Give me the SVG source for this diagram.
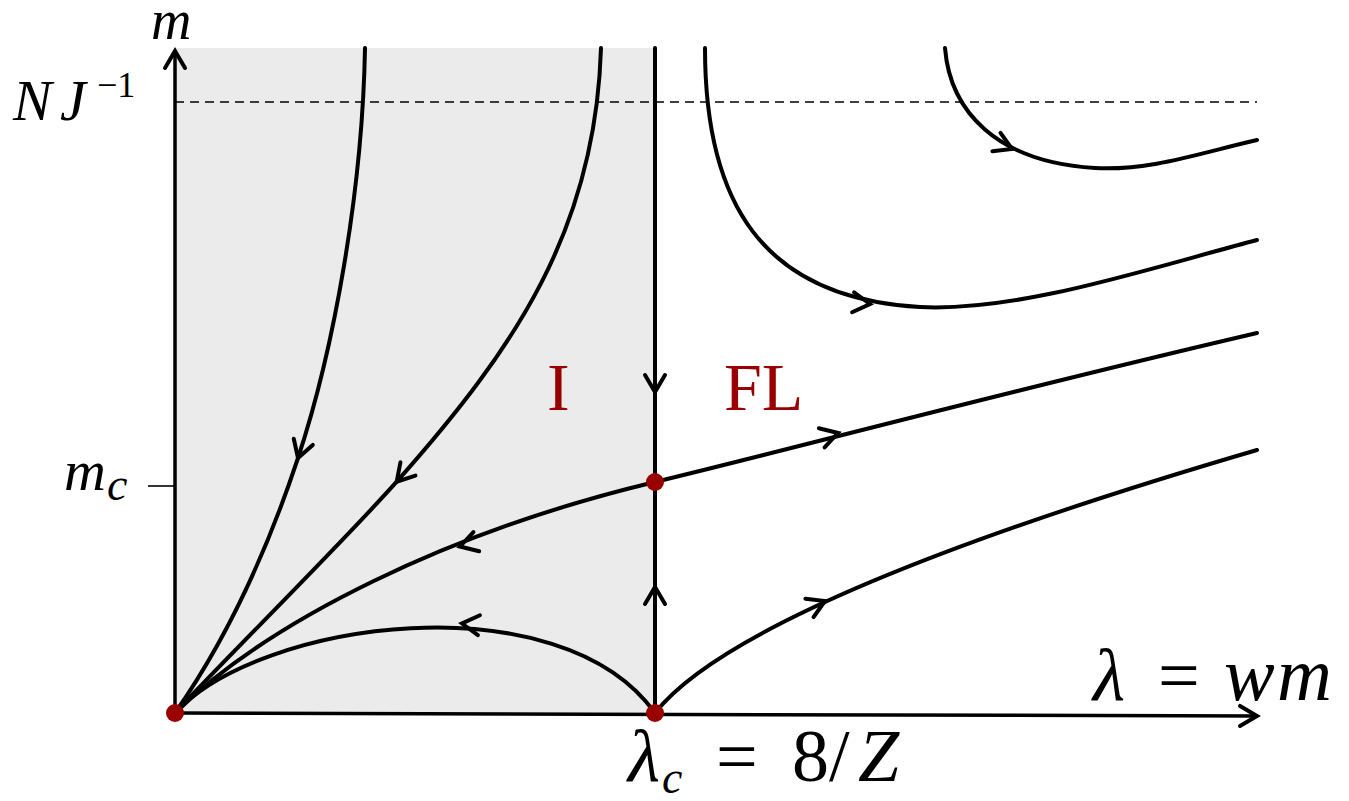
<svg xmlns="http://www.w3.org/2000/svg" width="1349" height="801" viewBox="0 0 1349 801">
<style>
.ln{fill:none;stroke:#000;stroke-width:4;stroke-linecap:round}
.ax{fill:none;stroke:#000;stroke-width:3.5}
.dash{fill:none;stroke:#000;stroke-width:1.6;stroke-dasharray:9 6}
.dir{fill:none;stroke:none}
.mi{font-family:"Liberation Serif","DejaVu Serif",serif;font-style:italic;fill:#000}
.rm{font-family:"Liberation Serif","DejaVu Serif",serif;fill:#000}
.red{font-family:"Liberation Serif","DejaVu Serif",serif;fill:#990000;font-size:68px}
.dot{fill:#990000}
</style>
<defs>
<marker id="tip" markerUnits="userSpaceOnUse" viewBox="-24 -14 28 28" markerWidth="28" markerHeight="28" refX="0" refY="0" orient="auto" overflow="visible">
<path d="M-17,-10 L0,0 L-17,10" fill="none" stroke="#000" stroke-width="4" stroke-linecap="round" stroke-linejoin="miter"/>
</marker>
</defs>
<rect id="region-I" x="175" y="48" width="480" height="665" fill="#ebebeb"/>
<g id="axes">
<path class="ax" d="M175,713 L175,51" marker-end="url(#tip)"/>
<path class="ax" d="M175,713 L1257,716" marker-end="url(#tip)"/>
<line class="dash" x1="175" y1="102" x2="1257" y2="102"/>
<line x1="148" y1="486" x2="175" y2="486" stroke="#000" stroke-width="1.6"/>
</g>
<g id="connectors">
<path class="ln" d="M655,48 L655,713"/>
<path class="ln" d="M175,713 C228.9,636 268.5,547.2 298,458 C334,349 362.5,190 365,48"/>
<path class="ln" d="M175,713 C229.4,654.6 343.6,541.5 396.7,481.7 C516.2,347.1 595.6,228.6 601,48"/>
<path class="ln" d="M175,713 C270,620 450,531 655,482 C800,447 1000,393 1257,333"/>
<path class="ln" d="M175,713 C260,620 560,580 655,713"/>
<path class="ln" d="M655,713 C720,630 950,540 1257,450"/>
<path class="ln" d="M705,48 C705,200 760,298 920,307 C1020,312 1150,268 1257,240"/>
<path class="ln" d="M945,48 C950,110 995,162 1095,168 C1150,171 1200,153 1257,140"/>
<g id="arrowheads">
<path class="dir" d="M301.1,448.5 L298,458" marker-end="url(#tip)"/>
<path class="dir" d="M403.3,474.2 L396.7,481.7" marker-end="url(#tip)"/>
<path class="dir" d="M470,543.5 L460,546.5" marker-end="url(#tip)"/>
<path class="dir" d="M472,624.5 L462,623.5" marker-end="url(#tip)"/>
<path class="dir" d="M655,382 L655,392" marker-end="url(#tip)"/>
<path class="dir" d="M655,597 L655,587" marker-end="url(#tip)"/>
<path class="dir" d="M828,436 L838,433" marker-end="url(#tip)"/>
<path class="dir" d="M816,605 L825,601" marker-end="url(#tip)"/>
<path class="dir" d="M860,303 L870,304" marker-end="url(#tip)"/>
<path class="dir" d="M1003,145 L1012,149" marker-end="url(#tip)"/>
</g>
</g>
<g id="fixed-points">
<circle class="dot" cx="175" cy="713" r="9"/>
<circle class="dot" cx="655" cy="713" r="9"/>
<circle class="dot" cx="655" cy="482" r="9"/>
</g>
<g id="labels">
<text class="mi" x="151" y="39" font-size="56">m</text>
<text class="mi" x="13" y="120" font-size="58">N</text>
<text class="mi" x="60" y="120" font-size="58">J</text>
<text class="rm" x="97" y="97" font-size="36">−1</text>
<text class="mi" x="64" y="490" font-size="58">m</text>
<text class="mi" x="107" y="500" font-size="46">c</text>
<text class="mi" x="1093" y="700" font-size="74">λ</text>
<text class="rm" x="1158" y="700" font-size="74">=</text>
<text class="mi" x="1224" y="700" font-size="76">w</text>
<text class="mi" x="1277" y="700" font-size="76">m</text>
<text class="mi" x="628" y="781" font-size="74">λ</text>
<text class="mi" x="662" y="793" font-size="46">c</text>
<text class="rm" x="716" y="781" font-size="74">=</text>
<text class="rm" x="792" y="781" font-size="74">8/</text>
<text class="mi" x="858" y="781" font-size="74">Z</text>
<text class="red" x="547" y="410">I</text>
<text class="red" x="724" y="410">FL</text>
</g>
</svg>
